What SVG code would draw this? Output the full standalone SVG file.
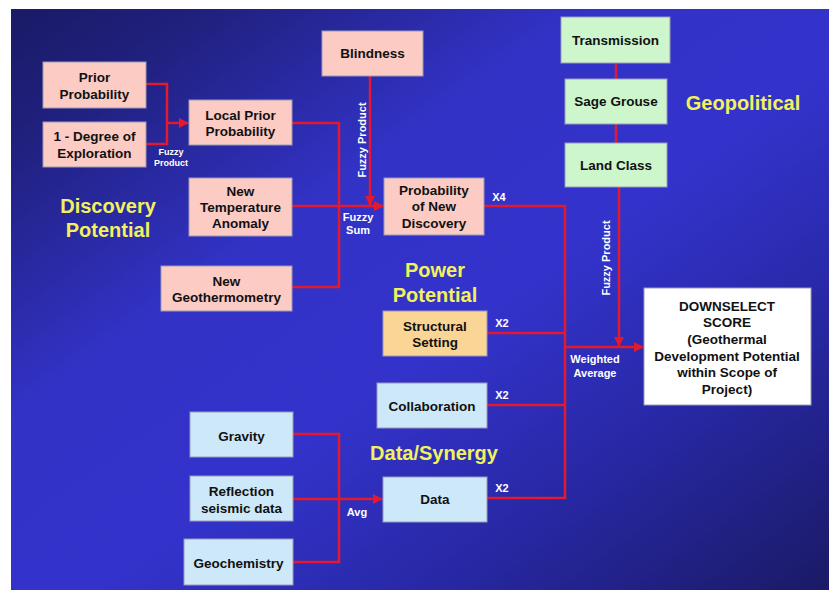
<svg xmlns="http://www.w3.org/2000/svg" width="829" height="590" viewBox="0 0 829 590">
<defs>
<linearGradient id="bg" x1="0" y1="0" x2="1" y2="1">
<stop offset="0" stop-color="#1a1a66"/>
<stop offset="0.12" stop-color="#20207e"/>
<stop offset="0.35" stop-color="#3232c6"/>
<stop offset="0.55" stop-color="#3333cc"/>
<stop offset="0.75" stop-color="#2828a6"/>
<stop offset="1" stop-color="#1a1a66"/>
</linearGradient>
<marker id="ah" viewBox="0 0 10 10" refX="9" refY="5" markerWidth="4" markerHeight="4" orient="auto" markerUnits="strokeWidth">
<path d="M0,0 L10,5 L0,10 Z" fill="#e3192e"/>
</marker>
<style>
.box{stroke:#9a9ab8;stroke-width:1}
.pink{fill:#fbcbc4}
.green{fill:#cdf6cd}
.blue{fill:#cde8f8}
.orange{fill:#fbd596}
.white{fill:#ffffff}
.t{font-family:"Liberation Sans",Arial,sans-serif;font-weight:bold;font-size:13.5px;fill:#111;text-anchor:middle}
.h{font-family:"Liberation Sans",Arial,sans-serif;font-weight:bold;font-size:20px;fill:#f2f25c;text-anchor:middle}
.s{font-family:"Liberation Sans",Arial,sans-serif;font-weight:bold;font-size:11px;fill:#ffffff;text-anchor:middle}
.xs{font-family:"Liberation Sans",Arial,sans-serif;font-weight:bold;font-size:9px;fill:#ffffff;text-anchor:middle}
.c{fill:none;stroke:#e3192e;stroke-width:2.5}
</style>
</defs>
<rect width="829" height="590" fill="#ffffff"/>
<rect x="11" y="9" width="818" height="581" fill="url(#bg)"/>

<g id="connectors">
<path class="c" d="M146,84 H167 V144 H146"/>
<path class="c" d="M167,123 H188" marker-end="url(#ah)"/>
<path class="c" d="M292,123 H339 V287 H292"/>
<path class="c" d="M292,206 H383" marker-end="url(#ah)"/>
<path class="c" d="M370,76 V205" marker-end="url(#ah)"/>
<path class="c" d="M484,206 H565 V498 H487"/>
<path class="c" d="M487,333 H565"/>
<path class="c" d="M487,405 H565"/>
<path class="c" d="M565,347 H643" marker-end="url(#ah)"/>
<path class="c" d="M619,187 V346" marker-end="url(#ah)"/>
<path class="c" d="M616,63 V79"/>
<path class="c" d="M616,124 V143"/>
<path class="c" d="M293,434 H339 V562 H293"/>
<path class="c" d="M293,499 H382" marker-end="url(#ah)"/>
<text class="xs" x="171" y="155">Fuzzy</text>
<text class="xs" x="171" y="166">Product</text>
<text class="s" transform="translate(366,140) rotate(-90)">Fuzzy Product</text>
<text class="s" x="358" y="221">Fuzzy</text>
<text class="s" x="358" y="234">Sum</text>
<text class="s" transform="translate(610,258) rotate(-90)">Fuzzy Product</text>
<text class="s" x="499" y="201">X4</text>
<text class="s" x="502" y="327">X2</text>
<text class="s" x="502" y="399">X2</text>
<text class="s" x="502" y="492">X2</text>
<text class="s" x="595" y="363">Weighted</text>
<text class="s" x="595" y="377">Average</text>
<text class="s" x="357" y="516">Avg</text>
</g>

<g id="heading-discovery">
<text class="h" x="108" y="213">Discovery</text>
<text class="h" x="108" y="237">Potential</text>
</g>
<g id="heading-geopolitical"><text class="h" x="743" y="110">Geopolitical</text></g>
<g id="heading-power">
<text class="h" x="435" y="277">Power</text>
<text class="h" x="435" y="302">Potential</text>
</g>
<g id="heading-data"><text class="h" x="434" y="460">Data/Synergy</text></g>

<g id="prior-probability">
<rect class="box pink" x="43" y="62" width="103" height="46"/>
<text class="t" x="94.5" y="82">Prior</text>
<text class="t" x="94.5" y="99">Probability</text>
</g>
<g id="degree-exploration">
<rect class="box pink" x="43" y="122" width="103" height="45"/>
<text class="t" x="94.5" y="141">1 - Degree of</text>
<text class="t" x="94.5" y="158">Exploration</text>
</g>
<g id="local-prior">
<rect class="box pink" x="189" y="100" width="103" height="45"/>
<text class="t" x="240.5" y="120">Local Prior</text>
<text class="t" x="240.5" y="136">Probability</text>
</g>
<g id="blindness">
<rect class="box pink" x="322" y="31" width="101" height="45"/>
<text class="t" x="372.5" y="58">Blindness</text>
</g>
<g id="new-temperature">
<rect class="box pink" x="189" y="178" width="103" height="58"/>
<text class="t" x="240.5" y="196">New</text>
<text class="t" x="240.5" y="212">Temperature</text>
<text class="t" x="240.5" y="228">Anomaly</text>
</g>
<g id="new-geothermometry">
<rect class="box pink" x="161" y="266" width="131" height="45"/>
<text class="t" x="226.5" y="286">New</text>
<text class="t" x="226.5" y="302">Geothermometry</text>
</g>
<g id="prob-new-discovery">
<rect class="box pink" x="384" y="178" width="100" height="57"/>
<text class="t" x="434" y="195">Probability</text>
<text class="t" x="434" y="211">of New</text>
<text class="t" x="434" y="228">Discovery</text>
</g>
<g id="transmission">
<rect class="box green" x="561" y="17" width="109" height="46"/>
<text class="t" x="615.5" y="45">Transmission</text>
</g>
<g id="sage-grouse">
<rect class="box green" x="565" y="79" width="102" height="45"/>
<text class="t" x="616" y="106">Sage Grouse</text>
</g>
<g id="land-class">
<rect class="box green" x="565" y="143" width="102" height="44"/>
<text class="t" x="616" y="170">Land Class</text>
</g>
<g id="structural-setting">
<rect class="box orange" x="383" y="311" width="104" height="45"/>
<text class="t" x="435" y="331">Structural</text>
<text class="t" x="435" y="347">Setting</text>
</g>
<g id="collaboration">
<rect class="box blue" x="377" y="383" width="110" height="45"/>
<text class="t" x="432" y="411">Collaboration</text>
</g>
<g id="data">
<rect class="box blue" x="383" y="477" width="104" height="45"/>
<text class="t" x="435" y="504">Data</text>
</g>
<g id="gravity">
<rect class="box blue" x="190" y="412" width="103" height="45"/>
<text class="t" x="241.5" y="441">Gravity</text>
</g>
<g id="reflection-seismic">
<rect class="box blue" x="190" y="476" width="103" height="45"/>
<text class="t" x="241.5" y="496">Reflection</text>
<text class="t" x="241.5" y="513">seismic data</text>
</g>
<g id="geochemistry">
<rect class="box blue" x="184" y="539" width="109" height="46"/>
<text class="t" x="238.5" y="568">Geochemistry</text>
</g>
<g id="downselect-score">
<rect class="box white" x="644" y="288" width="167" height="117"/>
<text class="t" x="727" y="311">DOWNSELECT</text>
<text class="t" x="727" y="327">SCORE</text>
<text class="t" x="727" y="344">(Geothermal</text>
<text class="t" x="727" y="361">Development Potential</text>
<text class="t" x="727" y="377">within Scope of</text>
<text class="t" x="727" y="394">Project)</text>
</g>
</svg>
